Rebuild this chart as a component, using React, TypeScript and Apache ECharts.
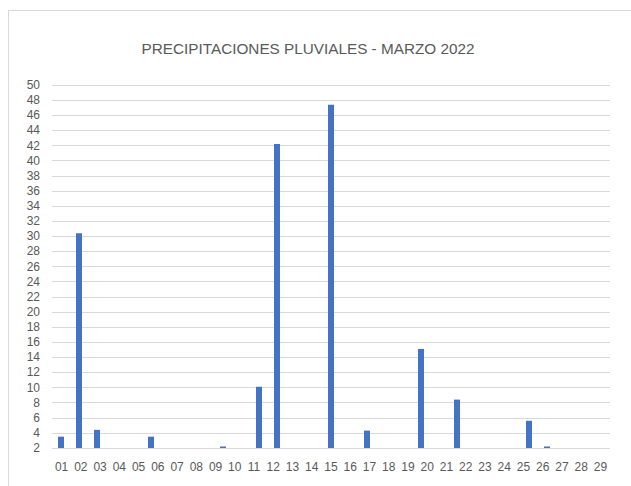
import React, { useEffect, useRef } from "react";
import * as echarts from "echarts";

const title = "PRECIPITACIONES PLUVIALES - MARZO 2022";
// 31 day slots of the month (bar positions)
const days = Array.from({ length: 31 }, (_, i) => String(i + 1).padStart(2, "0"));
// rainfall per day (mm); null = no rain
const rain: (number | null)[] = [
  3.5, 30.4, 4.4, null, null, 3.5, null, null, null, 2.2,
  null, 10.1, 42.2, null, null, 47.4, null, 4.3, null, null,
  15.1, null, 8.4, null, null, null, 5.6, 2.2, null, null, null,
];
// tick labels printed under the axis
const tickLabels = [
  "01", "02", "03", "04", "05", "06", "07", "08", "09", "10",
  "11", "12", "13", "14", "15", "16", "17", "18", "19", "20",
  "21", "22", "23", "24", "25", "26", "27", "28", "29",
];

export default function App() {
  const ref = useRef<HTMLDivElement>(null);
  useEffect(() => {
    if (!ref.current) return;
    const chart = echarts.init(ref.current, null, { renderer: "svg" });
    chart.setOption({
      animation: false,
      textStyle: { fontFamily: "Liberation Sans" },
      title: {
        text: title,
        left: 303,
        top: 36,
        textAlign: "center",
        textStyle: { fontSize: 15.3, fontWeight: "normal", color: "#595959", fontFamily: "Liberation Sans" },
      },
      grid: { left: 52, right: 21, top: 85, bottom: 38 },
      xAxis: [
        {
          type: "category",
          data: days,
          boundaryGap: true,
          axisLine: { show: false },
          axisTick: { show: false },
          axisLabel: { show: false },
        },
        {
          type: "category",
          data: tickLabels,
          position: "bottom",
          boundaryGap: true,
          axisLine: { show: false },
          axisTick: { show: false },
          axisLabel: { color: "#595959", fontSize: 12, margin: 13, interval: 0 },
        },
      ],
      yAxis: {
        type: "value",
        min: 2,
        max: 50,
        interval: 2,
        axisLine: { show: false },
        axisTick: { show: false },
        axisLabel: { color: "#595959", fontSize: 12, margin: 12 },
        splitLine: { lineStyle: { color: "#d9d9d9", width: 1 } },
      },
      series: [
        {
          type: "bar",
          xAxisIndex: 0,
          data: rain,
          barWidth: 6,
          itemStyle: { color: "#4472c4" },
        },
      ],
    });
    return () => chart.dispose();
  }, []);
  return (
    <div style={{ position: "absolute", left: 0, top: 0, width: 631, height: 486, overflow: "hidden", background: "#fff" }}>
      <div
        style={{
          position: "absolute",
          left: 8,
          top: 10,
          width: 700,
          height: 600,
          border: "1px solid #d9d9d9",
          boxSizing: "border-box",
        }}
      />
      <div ref={ref} style={{ position: "absolute", left: 0, top: 0, width: 631, height: 486 }} />
    </div>
  );
}
